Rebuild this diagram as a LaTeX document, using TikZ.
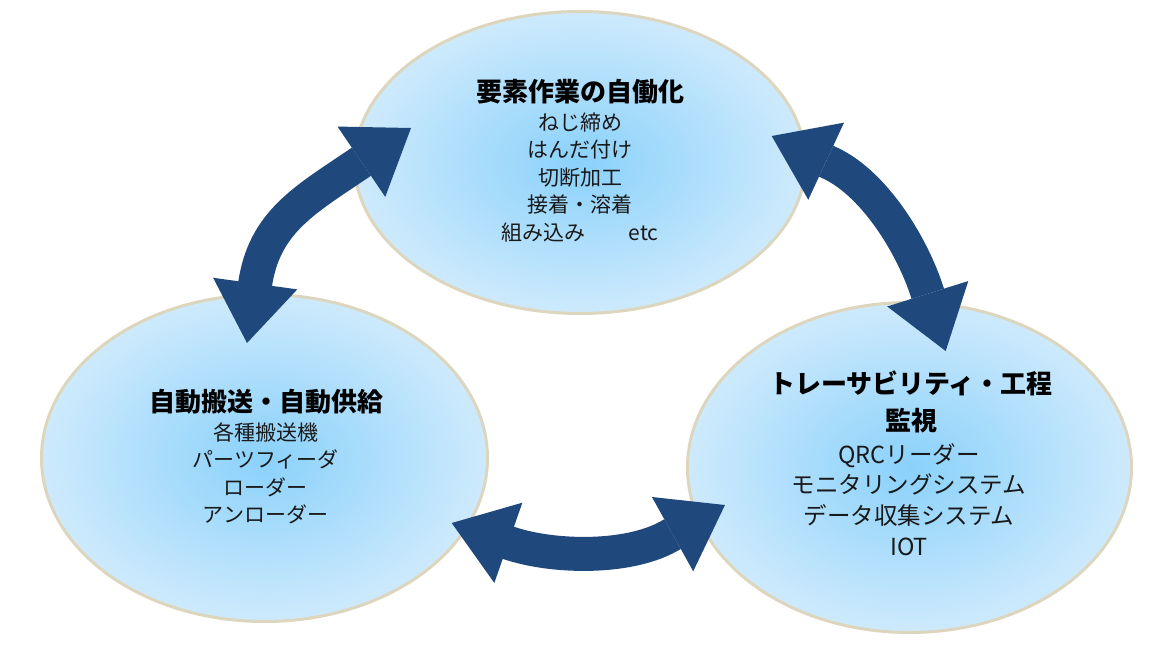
\documentclass[tikz,border=0pt]{standalone}
\usepackage{fontspec}
\setmainfont{Noto Sans CJK JP}
\usetikzlibrary{arrows.meta,shapes.geometric}
\definecolor{ellin}{RGB}{138,209,251}
\definecolor{ellout}{RGB}{206,234,252}
\definecolor{elledge}{RGB}{221,214,190}
\definecolor{arrowblue}{RGB}{31,73,125}
\tikzset{
  ell/.style={ellipse, inner sep=0pt, outer sep=0pt, draw=elledge, line width=3pt,
    shade, inner color=ellin, outer color=ellout},
  titletxt/.style={align=center, inner sep=0pt, text=black, font=\fontsize{26}{37}\selectfont\bfseries},
  bodytxt/.style={align=center, inner sep=0pt, text=black!90, font=\fontsize{21}{27.5}\selectfont},
  bodybig/.style={align=center, inner sep=0pt, text=black!90, font=\fontsize{23.5}{30.7}\selectfont},
  bigarrow/.style={draw=arrowblue, line width=34pt, line join=round,
    arrows={Triangle[width=85pt,length=60pt,line width=0pt]-Triangle[width=85pt,length=60pt,line width=0pt]}}
}
\begin{document}
\begin{tikzpicture}[x=1pt,y=-1pt]
\useasboundingbox (0,0) rectangle (1162,656);
\fill[white] (0,0) rectangle (1162,656);

% ellipses
\node[ell, minimum width=451pt, minimum height=302pt] (eTop) at (580,162.5) {};
\node[ell, minimum width=446pt, minimum height=327pt] (eLeft) at (264.5,458) {};
\node[ell, minimum width=444pt, minimum height=330pt] (eRight) at (909.5,467.5) {};

% texts
\node[titletxt] (tTop) at (580,92) {要素作業の自働化};
\node[bodytxt] (bTop) at (580,177.5) {ねじ締め\\はんだ付け\\切断加工\\接着・溶着\\組み込み\hspace{43pt}etc};

\node[titletxt] (tLeft) at (266.5,402) {自動搬送・自動供給};
\node[bodytxt] (bLeft) at (265.5,473.5) {各種搬送機\\パーツフィーダ\\ローダー\\アンローダー};

\node[titletxt] (tRight) at (911,401.5) {トレーサビリティ・工程\\監視};
\node[bodybig] (bRight) at (909,499.5) {QRCリーダー\\モニタリングシステム\\データ収集システム\\IOT};

% arrow end coordinates
\coordinate (a1t1) at (247,343);
\coordinate (a1b1) at (255,285);
\coordinate (a1b2) at (358,164);
\coordinate (a1t2) at (411,128);

\coordinate (a2t1) at (771.7,136);
\coordinate (a2b1) at (830,163);
\coordinate (a2b2) at (927.5,293);
\coordinate (a2t2) at (945.7,351);

\coordinate (a3t1) at (451.7,523);
\coordinate (a3b1) at (507.5,542.5);
\coordinate (a3b2) at (668.3,536.5);
\coordinate (a3t2) at (725,505);

% arrows
\draw[bigarrow] (a1t1) -- (a1b1) .. controls (264,222) and (305,200) .. (a1b2) -- (a1t2);
\draw[bigarrow] (a2t1) -- (a2b1) .. controls (874.5,183.6) and (912.8,246.3) .. (a2b2) -- (a2t2);
\draw[bigarrow] (a3t1) -- (a3b1) .. controls (551.9,558) and (627.2,559.3) .. (a3b2) -- (a3t2);
\end{tikzpicture}
\end{document}
